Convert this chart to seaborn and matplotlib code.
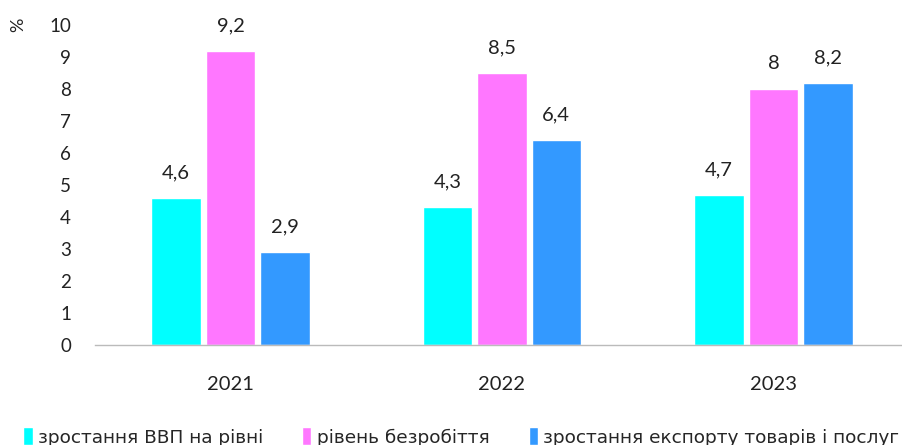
import matplotlib
matplotlib.use("Agg")
import matplotlib.pyplot as plt
import seaborn as sns
import pandas as pd

years = ["2021", "2022", "2023"]
series = ["зростання ВВП на рівні", "рівень безробіття", "зростання експорту товарів і послуг"]
gdp = [4.6, 4.3, 4.7]
unemployment = [9.2, 8.5, 8.0]
export = [2.9, 6.4, 8.2]
yticks = list(range(0, 11))
colors = ["#00FFFF", "#FF77FF", "#3399FF"]

rows = []
for name, vals in zip(series, [gdp, unemployment, export]):
    for y, v in zip(years, vals):
        rows.append({"year": y, "series": name, "value": v})
df = pd.DataFrame(rows)

sns.set_theme(style="white")
plt.rcParams["font.family"] = ["Lato", "DejaVu Sans"]

fig = plt.figure(figsize=(9.03, 4.45), dpi=100)
W, H = 903, 445
x0 = 230.5 - 271.5 * 0.5
ax = fig.add_axes([x0 / W, (H - 345) / H, 271.5 * 3 / W, 320 / H])

sns.barplot(data=df, x="year", y="value", hue="series", palette=colors,
            width=0.6, gap=0.09, ax=ax, saturation=1, legend=True)

ax.set_ylim(0, 10)
ax.set_xlim(-0.5, 2.5)
ax.set_yticks(yticks)
ax.set_yticklabels([str(t) for t in yticks])
ax.tick_params(axis="y", labelsize=13.5, pad=17, length=0, colors="#222222")
ax.tick_params(axis="x", labelsize=14.5, pad=22, length=0, colors="#222222")
ax.set_xlabel("")
ax.set_ylabel("")
for s in ["top", "right", "left"]:
    ax.spines[s].set_visible(False)
ax.spines["bottom"].set_color("#BBBBBB")
ax.spines["bottom"].set_linewidth(1)

for cont in ax.containers:
    labels = [f"{v:g}".replace(".", ",") for v in cont.datavalues]
    ax.bar_label(cont, labels=labels, padding=12, fontsize=14.5, color="#222222")

fig.text(18 / W, 1 - 25 / H, "%", rotation=90, ha="center", va="center", fontsize=13, color="#222222")

handles, labs = ax.get_legend_handles_labels()
ax.get_legend().remove()
leg = fig.legend(handles, labs, loc="center left", bbox_to_anchor=(16 / W, 1 - 437 / H),
                 ncol=3, frameon=False, handlelength=0.5, handleheight=1.1,
                 handletextpad=0.3, columnspacing=2.1, borderaxespad=0,
                 prop={"family": ["DejaVu Sans"], "size": 13.3})

fig.savefig("out.png", dpi=100)
